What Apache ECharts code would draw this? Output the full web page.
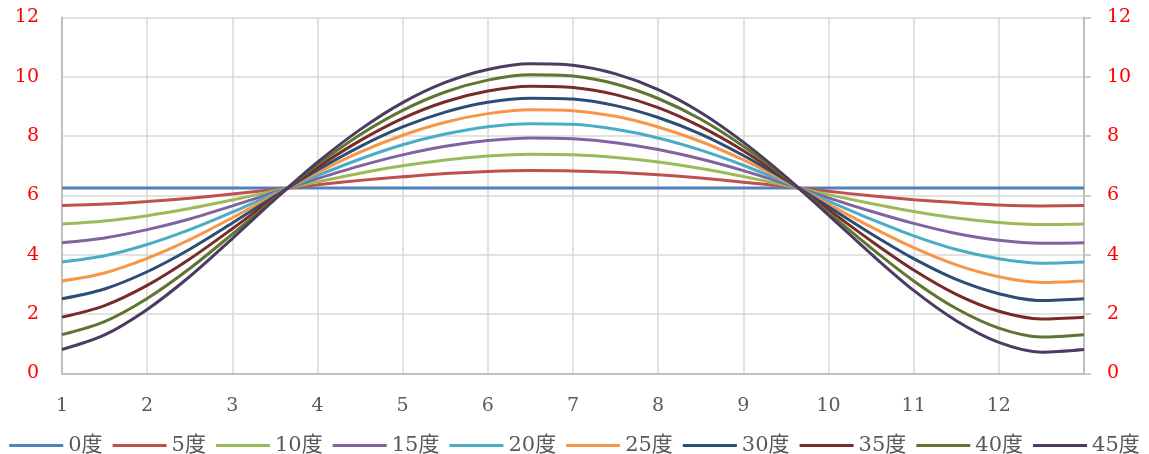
<!DOCTYPE html>
<html>
<head>
<meta charset="utf-8">
<script src="https://cdn.jsdelivr.net/npm/echarts@6/dist/echarts.min.js"></script>
<style>
  html, body { margin: 0; padding: 0; background: #fff; }
  #chart { width: 1149px; height: 454px; }
</style>
</head>
<body>
<div id="chart"></div>
<script>
  // x positions (months), read at every half step
  var xs = [1, 1.5, 2, 2.5, 3, 3.5, 4, 4.5, 5, 5.5, 6, 6.5, 7, 7.5, 8, 8.5, 9, 9.5, 10, 10.5, 11, 11.5, 12, 12.5, 13];
  var xTicks = ['1', '2', '3', '4', '5', '6', '7', '8', '9', '10', '11', '12'];
  var yTicks = [0, 2, 4, 6, 8, 10, 12];

  var names = ['0度', '5度', '10度', '15度', '20度', '25度', '30度', '35度', '40度', '45度'];
  var colors = ['#4F81BD', '#C0504D', '#9BBB59', '#8064A2', '#4BACC6', '#F79646', '#2C4D75', '#772C2A', '#5F7530', '#4D3B62'];

  var deg0  = [6.25, 6.25, 6.25, 6.25, 6.25, 6.25, 6.25, 6.25, 6.25, 6.25, 6.25, 6.25, 6.25, 6.25, 6.25, 6.25, 6.25, 6.25, 6.25, 6.25, 6.25, 6.25, 6.25, 6.25, 6.25];
  var deg5  = [5.66, 5.71, 5.80, 5.91, 6.05, 6.20, 6.36, 6.51, 6.63, 6.74, 6.81, 6.84, 6.83, 6.78, 6.70, 6.59, 6.45, 6.30, 6.14, 5.99, 5.86, 5.76, 5.68, 5.65, 5.66];
  var deg10 = [5.04, 5.14, 5.32, 5.56, 5.85, 6.16, 6.46, 6.75, 7.00, 7.20, 7.33, 7.39, 7.37, 7.28, 7.13, 6.91, 6.64, 6.34, 6.03, 5.73, 5.46, 5.24, 5.09, 5.02, 5.04];
  var deg15 = [4.41, 4.57, 4.85, 5.21, 5.65, 6.11, 6.57, 7.00, 7.37, 7.66, 7.85, 7.94, 7.91, 7.78, 7.55, 7.23, 6.84, 6.39, 5.92, 5.47, 5.06, 4.72, 4.49, 4.39, 4.41];
  var deg20 = [3.76, 3.97, 4.35, 4.85, 5.44, 6.07, 6.67, 7.23, 7.71, 8.07, 8.32, 8.42, 8.40, 8.23, 7.94, 7.53, 7.02, 6.43, 5.81, 5.20, 4.64, 4.18, 3.87, 3.72, 3.76];
  var deg25 = [3.12, 3.39, 3.88, 4.51, 5.25, 6.02, 6.77, 7.46, 8.03, 8.47, 8.76, 8.89, 8.86, 8.67, 8.31, 7.82, 7.20, 6.48, 5.71, 4.94, 4.24, 3.66, 3.26, 3.07, 3.12];
  var deg30 = [2.52, 2.85, 3.43, 4.19, 5.07, 5.98, 6.86, 7.65, 8.31, 8.81, 9.14, 9.28, 9.25, 9.03, 8.63, 8.07, 7.35, 6.52, 5.62, 4.71, 3.87, 3.17, 2.69, 2.46, 2.52];
  var deg35 = [1.90, 2.29, 2.97, 3.86, 4.88, 5.94, 6.95, 7.85, 8.60, 9.16, 9.52, 9.68, 9.64, 9.40, 8.96, 8.32, 7.51, 6.55, 5.52, 4.47, 3.49, 2.67, 2.10, 1.84, 1.90];
  var deg40 = [1.31, 1.75, 2.53, 3.54, 4.70, 5.90, 7.04, 8.05, 8.87, 9.49, 9.89, 10.07, 10.03, 9.76, 9.27, 8.57, 7.66, 6.59, 5.42, 4.23, 3.12, 2.19, 1.53, 1.23, 1.31];
  var deg45 = [0.81, 1.30, 2.16, 3.27, 4.55, 5.87, 7.12, 8.22, 9.13, 9.81, 10.25, 10.44, 10.39, 10.10, 9.57, 8.80, 7.80, 6.63, 5.34, 4.03, 2.80, 1.78, 1.05, 0.72, 0.81];

  var allValues = [deg0, deg5, deg10, deg15, deg20, deg25, deg30, deg35, deg40, deg45];

  var font = '"DejaVu Serif", "Noto Sans CJK JP", serif';

  var chartDom = document.getElementById('chart');
  var myChart = echarts.init(chartDom);

  var series = names.map(function (name, i) {
    return {
      name: name,
      type: 'line',
      smooth: 0.3,
      showSymbol: false,
      symbol: 'none',
      data: xs.map(function (x, j) { return [x, allValues[i][j]]; }),
      lineStyle: { color: colors[i], width: 3 },
      itemStyle: { color: colors[i] }
    };
  });

  var yAxisCommon = {
    type: 'value',
    min: yTicks[0],
    max: yTicks[yTicks.length - 1],
    interval: 2,
    axisLabel: { color: '#FF0000', fontFamily: font, fontSize: 19, margin: 23 }
  };

  var option = {
    animation: false,
    backgroundColor: '#ffffff',
    grid: { left: 62, right: 65, top: 17.5, bottom: 80.5, containLabel: false },
    legend: {
      data: names,
      left: 'center',
      top: 430,
      icon: 'rect',
      itemWidth: 54,
      itemHeight: 3,
      itemGap: 10,
      textStyle: { color: '#595959', fontFamily: font, fontSize: 21 }
    },
    xAxis: {
      type: 'value',
      min: 1,
      max: 13,
      interval: 1,
      axisLine: { show: true, onZero: false, lineStyle: { color: '#BFBFBF', width: 2 } },
      axisTick: { show: false },
      axisLabel: {
        color: '#595959', fontFamily: font, fontSize: 19, margin: 23,
        formatter: function (v) { return xTicks.indexOf(String(v)) >= 0 ? String(v) : ''; }
      },
      splitLine: { show: true, lineStyle: { color: '#D9D9D9', width: 1.5 } }
    },
    yAxis: [
      Object.assign({}, yAxisCommon, {
        position: 'left',
        axisLine: { show: true, lineStyle: { color: '#BFBFBF', width: 2 } },
        axisTick: { show: false },
        splitLine: { show: true, lineStyle: { color: '#D9D9D9', width: 1.5 } }
      }),
      Object.assign({}, yAxisCommon, {
        position: 'right',
        axisLine: { show: true, lineStyle: { color: '#BFBFBF', width: 2 } },
        axisTick: { show: true, length: 7, lineStyle: { color: '#BFBFBF', width: 1.5 } },
        splitLine: { show: false }
      })
    ],
    series: series
  };

  option && myChart.setOption(option);
</script>
</body>
</html>
